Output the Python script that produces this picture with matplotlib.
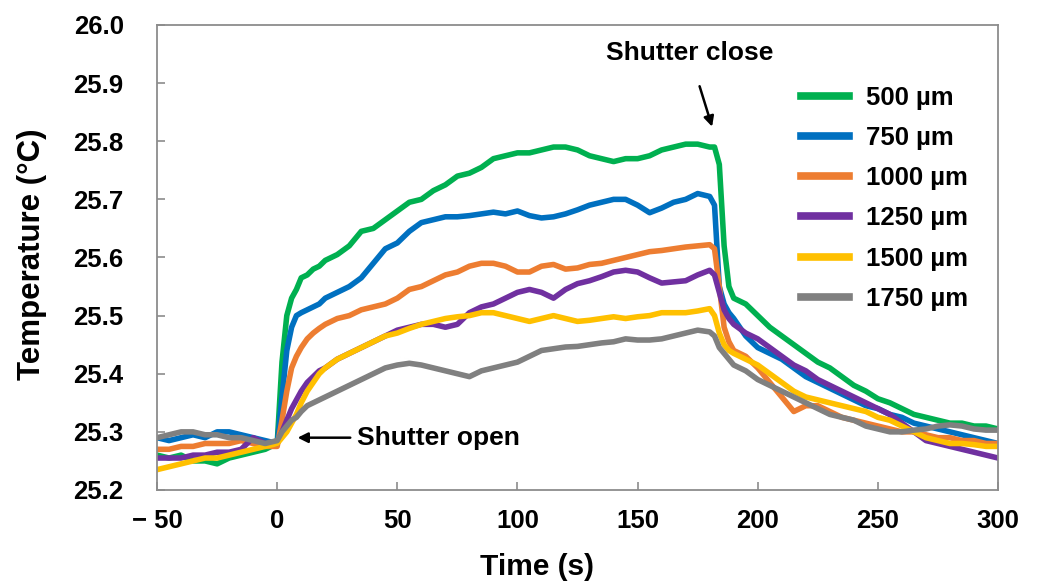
import matplotlib
matplotlib.use("Agg")
import matplotlib.pyplot as plt

plt.rcParams['font.family'] = ['Liberation Sans', 'DejaVu Sans']
plt.rcParams['font.weight'] = 'bold'

time_s = [-50, -45, -40, -35, -30, -25, -20, -15, -10, -5, 0,
          2, 4, 6, 8, 10, 12.5, 15, 17.5, 20,
          25, 30, 35, 40, 45, 50, 55, 60, 65, 70, 75, 80, 85, 90, 95, 100,
          105, 110, 115, 120, 125, 130, 135, 140, 145, 150, 155, 160, 165, 170, 175, 180,
          182, 184, 186, 188,
          190, 195, 200, 205, 210, 215, 220, 225, 230, 235, 240, 245, 250, 255, 260,
          265, 270, 275, 280, 285, 290, 295, 300]

t_500 = [25.26, 25.255, 25.26, 25.25, 25.25, 25.245, 25.255, 25.26, 25.265, 25.27, 25.28,
         25.42, 25.50, 25.53, 25.545, 25.565, 25.57, 25.58, 25.585, 25.595,
         25.605, 25.62, 25.645, 25.65, 25.665, 25.68, 25.695, 25.70, 25.715, 25.725, 25.74,
         25.745, 25.755, 25.77, 25.775, 25.78, 25.78, 25.785, 25.79, 25.79, 25.785, 25.775,
         25.77, 25.765, 25.77, 25.77, 25.775, 25.785, 25.79, 25.795, 25.795, 25.79,
         25.79, 25.76, 25.62, 25.55,
         25.53, 25.52, 25.50, 25.48, 25.465, 25.45, 25.435, 25.42, 25.41, 25.395, 25.38,
         25.37, 25.357, 25.35, 25.34, 25.33, 25.325, 25.32, 25.315, 25.315, 25.31, 25.31, 25.305]

t_750 = [25.29, 25.285, 25.29, 25.295, 25.29, 25.30, 25.30, 25.295, 25.29, 25.285, 25.28,
         25.36, 25.44, 25.48, 25.50, 25.505, 25.51, 25.515, 25.52, 25.53,
         25.54, 25.55, 25.565, 25.59, 25.615, 25.625, 25.645, 25.66, 25.665, 25.67, 25.67,
         25.672, 25.675, 25.678, 25.675, 25.68, 25.672, 25.668, 25.67, 25.675, 25.682, 25.69,
         25.695, 25.70, 25.70, 25.69, 25.677, 25.685, 25.695, 25.70, 25.71, 25.705,
         25.69, 25.55, 25.52, 25.505,
         25.495, 25.465, 25.445, 25.435, 25.425, 25.41, 25.395, 25.385, 25.375, 25.365, 25.355,
         25.345, 25.34, 25.33, 25.325, 25.315, 25.31, 25.305, 25.30, 25.295, 25.29, 25.285, 25.28]

t_1000 = [25.27, 25.27, 25.275, 25.275, 25.28, 25.28, 25.28, 25.285, 25.28, 25.275, 25.275,
          25.32, 25.37, 25.41, 25.43, 25.445, 25.46, 25.47, 25.478, 25.485,
          25.495, 25.50, 25.51, 25.515, 25.52, 25.53, 25.545, 25.55, 25.56, 25.57, 25.575,
          25.585, 25.59, 25.59, 25.585, 25.575, 25.575, 25.585, 25.588, 25.58, 25.582, 25.588,
          25.59, 25.595, 25.60, 25.605, 25.61, 25.612, 25.615, 25.618, 25.62, 25.622,
          25.615, 25.55, 25.48, 25.455,
          25.44, 25.43, 25.41, 25.385, 25.36, 25.335, 25.345, 25.345, 25.335, 25.325, 25.32,
          25.315, 25.31, 25.305, 25.30, 25.30, 25.295, 25.29, 25.29, 25.285, 25.285, 25.28, 25.28]

t_1250 = [25.255, 25.255, 25.255, 25.26, 25.26, 25.265, 25.265, 25.27, 25.29, 25.28, 25.28,
          25.30, 25.32, 25.34, 25.355, 25.37, 25.385, 25.395, 25.405, 25.41,
          25.425, 25.435, 25.445, 25.455, 25.465, 25.475, 25.48, 25.485, 25.485, 25.48, 25.485,
          25.505, 25.515, 25.52, 25.53, 25.54, 25.545, 25.54, 25.53, 25.545, 25.555, 25.56,
          25.567, 25.575, 25.578, 25.575, 25.565, 25.556, 25.558, 25.56, 25.57, 25.578,
          25.57, 25.54, 25.51, 25.495,
          25.485, 25.47, 25.46, 25.445, 25.43, 25.415, 25.405, 25.39, 25.38, 25.37, 25.36,
          25.35, 25.34, 25.33, 25.315, 25.30, 25.285, 25.28, 25.275, 25.27, 25.265, 25.26, 25.255]

t_1500 = [25.235, 25.24, 25.245, 25.25, 25.255, 25.255, 25.26, 25.265, 25.27, 25.275, 25.28,
          25.29, 25.30, 25.315, 25.33, 25.35, 25.37, 25.385, 25.40, 25.41,
          25.425, 25.435, 25.445, 25.455, 25.465, 25.47, 25.478, 25.485, 25.49, 25.495, 25.498,
          25.50, 25.505, 25.505, 25.50, 25.495, 25.49, 25.495, 25.50, 25.495, 25.49, 25.492,
          25.495, 25.498, 25.495, 25.498, 25.50, 25.505, 25.505, 25.505, 25.508, 25.512,
          25.50, 25.47, 25.45, 25.44,
          25.435, 25.425, 25.415, 25.40, 25.385, 25.37, 25.36, 25.355, 25.35, 25.345, 25.34,
          25.335, 25.325, 25.32, 25.31, 25.30, 25.29, 25.285, 25.28, 25.28, 25.278, 25.275, 25.275]

t_1750 = [25.29, 25.295, 25.30, 25.30, 25.295, 25.295, 25.29, 25.29, 25.285, 25.28, 25.285,
          25.30, 25.31, 25.32, 25.325, 25.335, 25.345, 25.35, 25.355, 25.36,
          25.37, 25.38, 25.39, 25.40, 25.41, 25.415, 25.418, 25.415, 25.41, 25.405, 25.40,
          25.395, 25.405, 25.41, 25.415, 25.42, 25.43, 25.44, 25.443, 25.446, 25.447, 25.45,
          25.453, 25.455, 25.46, 25.458, 25.458, 25.46, 25.465, 25.47, 25.475, 25.472,
          25.465, 25.445, 25.435, 25.425,
          25.415, 25.405, 25.39, 25.38, 25.37, 25.36, 25.35, 25.34, 25.33, 25.325, 25.32,
          25.31, 25.305, 25.30, 25.30, 25.303, 25.305, 25.31, 25.312, 25.31, 25.305, 25.303, 25.303]

labels = ['500 µm', '750 µm', '1000 µm', '1250 µm', '1500 µm', '1750 µm']
colors = ['#00B050', '#0070C0', '#ED7D31', '#7030A0', '#FFC000', '#808080']
series = [t_500, t_750, t_1000, t_1250, t_1500, t_1750]

x_ticks = [-50, 0, 50, 100, 150, 200, 250, 300]
x_tick_labels = ['\u2212 50', '0', '50', '100', '150', '200', '250', '300']
y_ticks = [25.2, 25.3, 25.4, 25.5, 25.6, 25.7, 25.8, 25.9, 26.0]

fig = plt.figure(figsize=(10.38, 5.85), dpi=100)
ax = fig.add_axes([0.1513, 0.1624, 0.8102, 0.7949])

for vals, c, lab in zip(series, colors, labels):
    ax.plot(time_s, vals, color=c, lw=4, label=lab, solid_joinstyle='round')

ax.set_xlim(-50, 300)
ax.set_ylim(25.2, 26.0)
ax.set_xticks(x_ticks)
ax.set_xticklabels(x_tick_labels)
ax.set_yticks(y_ticks)
ax.set_yticklabels([f'{v:.1f}' for v in y_ticks])

for sp in ax.spines.values():
    sp.set_color('#8c8c8c')
    sp.set_linewidth(1.3)
ax.tick_params(axis='both', direction='in', length=6, width=1.2, color='#8c8c8c',
               labelsize=18.5, labelcolor='black')
ax.tick_params(axis='y', pad=24)
ax.tick_params(axis='x', pad=14)
for lbl in ax.get_xticklabels() + ax.get_yticklabels():
    lbl.set_fontweight('bold')

fig.text(0.517, 0.031, 'Time (s)', fontsize=21.5, fontweight='bold', ha='center', va='center')
fig.text(0.031, 0.566, 'Temperature (°C)', fontsize=22.5, fontweight='bold',
         ha='center', va='center', rotation=90)

ax.annotate('Shutter close', xy=(181, 25.825), xytext=(171.5, 25.952),
            fontsize=19, fontweight='bold', ha='center', va='center',
            arrowprops=dict(arrowstyle='-|>', color='black', lw=1.8,
                            mutation_scale=15, shrinkA=14, shrinkB=0))
ax.annotate('Shutter open', xy=(8.5, 25.29), xytext=(33.3, 25.29),
            fontsize=19, fontweight='bold', ha='left', va='center',
            arrowprops=dict(arrowstyle='-|>', color='black', lw=1.8,
                            mutation_scale=15, shrinkA=3, shrinkB=0))

leg = ax.legend(loc='upper left', bbox_to_anchor=(0.766, 0.869), frameon=False,
                fontsize=18.5, handlelength=1.85, handletextpad=0.66, labelspacing=0.63,
                borderpad=0, borderaxespad=0)
for line in leg.get_lines():
    line.set_linewidth(5.5)
for txt in leg.get_texts():
    txt.set_fontweight('bold')

fig.savefig('out.png', dpi=100)
